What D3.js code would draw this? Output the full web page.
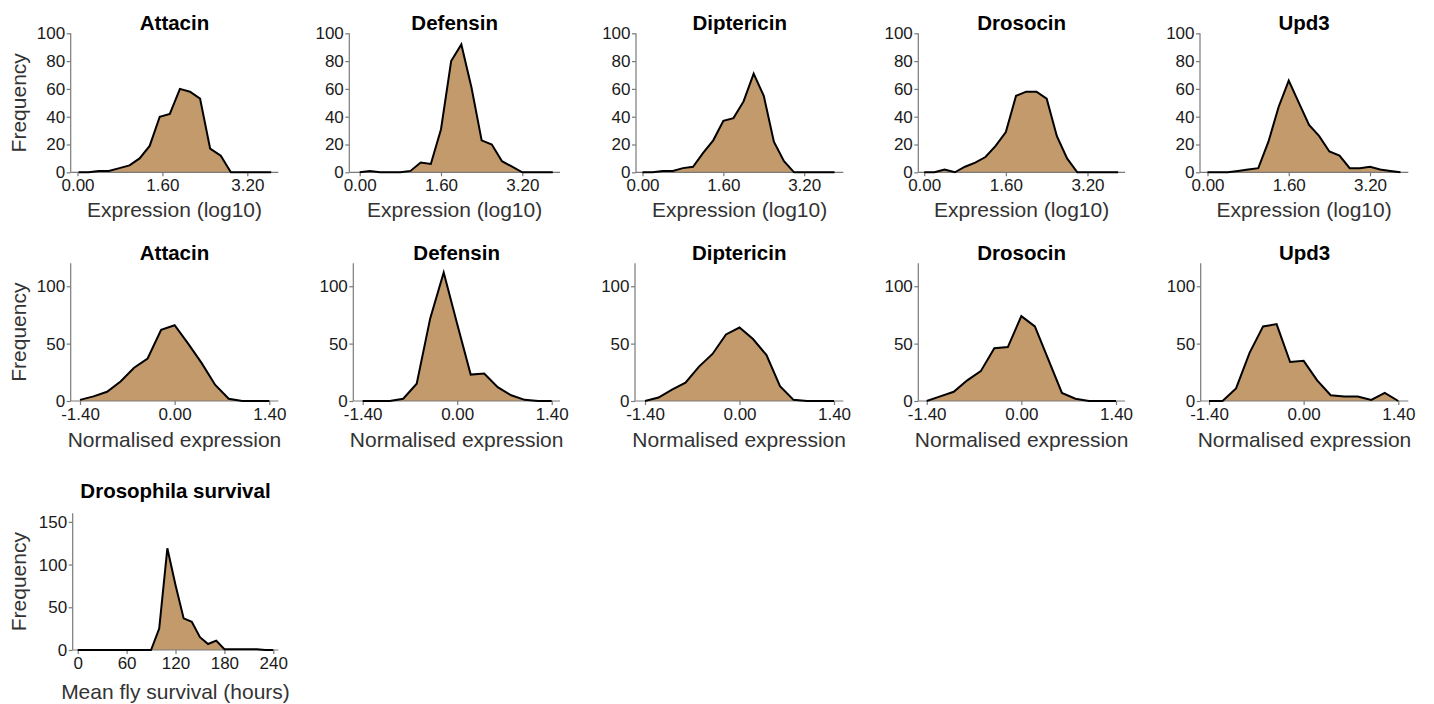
<!DOCTYPE html>
<html>
<head>
<meta charset="utf-8">
<script src="https://cdn.jsdelivr.net/npm/d3@7"></script>
<style>
  html, body { margin: 0; padding: 0; background: #fff; }
  svg { display: block; }
  text { font-family: "Liberation Sans", Arial, Helvetica, sans-serif; }
</style>
</head>
<body>
<svg id="chart" width="1434" height="704"></svg>
<script>
// ---------------- DATA ----------------
const geneNames = ["Attacin", "Defensin", "Diptericin", "Drosocin", "Upd3"];

// Row 1: expression (log10) bin positions
const attacinLogBins = [0.02, 0.21, 0.40, 0.59, 0.79, 0.98, 1.17, 1.36, 1.55, 1.74, 1.93, 2.12, 2.31, 2.50, 2.70, 2.89, 3.08, 3.27, 3.46, 3.65];
const logBins = [0.0, 0.2, 0.4, 0.6, 0.8, 1.0, 1.2, 1.4, 1.6, 1.8, 2.0, 2.2, 2.4, 2.6, 2.8, 3.0, 3.2, 3.4, 3.6, 3.8];
const logTicks = [0, 1.6, 3.2];

const attacinLog    = [0, 0, 1, 1, 3, 5, 10, 19, 40, 42, 60, 58, 53, 17, 12, 0, 0, 0, 0, 0];
const defensinLog   = [0, 1, 0, 0, 0, 1, 7, 6, 31, 80, 92, 61, 23, 20, 8, 4, 0, 0, 0, 0];
const diptericinLog = [0, 0, 1, 1, 3, 4, 14, 23, 37, 39, 51, 71, 55, 22, 8, 0, 0, 0, 0, 0];
const drosocinLog   = [0, 0, 2, 0, 4, 7, 11, 19, 29, 55, 58, 58, 53, 26, 10, 0, 0, 0, 0, 0];
const upd3Log       = [0, 0, 0, 1, 2, 3, 22, 47, 66, 50, 34, 26, 15, 12, 3, 3, 4, 2, 1, 0];

// Row 2: normalised expression
const normBins = [-1.4, -1.2, -1.0, -0.8, -0.6, -0.4, -0.2, 0.0, 0.2, 0.4, 0.6, 0.8, 1.0, 1.2, 1.4];
const normTicks = [-1.4, 0, 1.4];

const attacinNorm    = [1, 4, 8, 17, 29, 37, 62, 66, 50, 33, 14, 2, 0, 0, 0];
const defensinNorm   = [0, 0, 0, 2, 15, 72, 112, 67, 23, 24, 12, 5, 1, 0, 0];
const diptericinNorm = [0, 3, 10, 16, 30, 41, 58, 64, 54, 40, 13, 1, 0, 0, 0];
const drosocinNorm   = [0, 4, 8, 18, 26, 46, 47, 74, 65, 36, 7, 2, 0, 0, 0];
const upd3Norm       = [0, 0, 11, 42, 65, 67, 34, 35, 18, 5, 4, 4, 1, 7, 0];

// Row 3: survival
const survivalBins = [0, 10, 20, 30, 40, 50, 60, 70, 80, 90, 100, 110, 120, 130, 140, 150, 160, 170, 180, 190, 200, 210, 220, 230, 240];
const survivalFreq = [0, 0, 0, 0, 0, 0, 0, 0, 0, 0, 25, 119, 76, 37, 33, 15, 7, 11, 1, 1, 1, 1, 1, 0, 0];
const survivalTicks = [0, 60, 120, 180, 240];

const row1YTicks = [0, 20, 40, 60, 80, 100];
const row2YTicks = [0, 50, 100];
const row3YTicks = [0, 50, 100, 150];

// ---------------- LAYOUT ----------------
const FILL = "#c39a6b";
const AXIS_COLOR = "#7a7a7a";
const fmt2 = d => d3.format(".2f")(d).replace("\u2212", "-");
const fmtInt = d => d3.format("d")(d);

const panels = [
  // row 1
  { title: geneNames[0], bins: attacinLogBins, vals: attacinLog, xt: logTicks, xfmt: fmt2, ref: [0, 3.2], refPx: [77.5, 247.3], axL: 70.7, axR: 278.3, yTop: 33.3, yBot: 172.3, yMax: 100, yt: row1YTicks, titleY: 30, xlab: "Expression (log10)", xlabY: 216.5, ylab: true },
  { title: geneNames[1], bins: logBins, vals: defensinLog, xt: logTicks, xfmt: fmt2, ref: [0, 3.2], refPx: [359.7, 522.3], axL: 349.3, axR: 560, yTop: 33.3, yBot: 172.3, yMax: 100, yt: row1YTicks, titleY: 30, xlab: "Expression (log10)", xlabY: 216.5 },
  { title: geneNames[2], bins: logBins, vals: diptericinLog, xt: logTicks, xfmt: fmt2, ref: [0, 3.2], refPx: [642.5, 804.2], axL: 636, axR: 843.3, yTop: 33.3, yBot: 172.3, yMax: 100, yt: row1YTicks, titleY: 30, xlab: "Expression (log10)", xlabY: 216.5 },
  { title: geneNames[3], bins: logBins, vals: drosocinLog, xt: logTicks, xfmt: fmt2, ref: [0, 3.2], refPx: [924.2, 1087.5], axL: 918.3, axR: 1125, yTop: 33.3, yBot: 172.3, yMax: 100, yt: row1YTicks, titleY: 30, xlab: "Expression (log10)", xlabY: 216.5 },
  { title: geneNames[4], bins: logBins, vals: upd3Log, xt: logTicks, xfmt: fmt2, ref: [0, 3.2], refPx: [1207.5, 1370], axL: 1200, axR: 1408.3, yTop: 33.3, yBot: 172.3, yMax: 100, yt: row1YTicks, titleY: 30, xlab: "Expression (log10)", xlabY: 216.5 },
  // row 2
  { title: geneNames[0], bins: normBins, vals: attacinNorm, xt: normTicks, xfmt: fmt2, ref: [-1.4, 1.4], refPx: [80, 269.3], axL: 70.7, axR: 278.3, yTop: 263.3, yBot: 401, yMax: 120, yt: row2YTicks, titleY: 260, xlab: "Normalised expression", xlabY: 446.5, ylab: true },
  { title: geneNames[1], bins: normBins, vals: defensinNorm, xt: normTicks, xfmt: fmt2, ref: [-1.4, 1.4], refPx: [362.7, 551.7], axL: 353.3, axR: 560, yTop: 263.3, yBot: 401, yMax: 120, yt: row2YTicks, titleY: 260, xlab: "Normalised expression", xlabY: 446.5 },
  { title: geneNames[2], bins: normBins, vals: diptericinNorm, xt: normTicks, xfmt: fmt2, ref: [-1.4, 1.4], refPx: [645, 834], axL: 635, axR: 843.3, yTop: 263.3, yBot: 401, yMax: 120, yt: row2YTicks, titleY: 260, xlab: "Normalised expression", xlabY: 446.5 },
  { title: geneNames[3], bins: normBins, vals: drosocinNorm, xt: normTicks, xfmt: fmt2, ref: [-1.4, 1.4], refPx: [926.7, 1116], axL: 918.3, axR: 1125, yTop: 263.3, yBot: 401, yMax: 120, yt: row2YTicks, titleY: 260, xlab: "Normalised expression", xlabY: 446.5 },
  { title: geneNames[4], bins: normBins, vals: upd3Norm, xt: normTicks, xfmt: fmt2, ref: [-1.4, 1.4], refPx: [1209, 1398.3], axL: 1200.7, axR: 1408.3, yTop: 263.3, yBot: 401, yMax: 120, yt: row2YTicks, titleY: 260, xlab: "Normalised expression", xlabY: 446.5 },
  // row 3
  { title: "Drosophila survival", bins: survivalBins, vals: survivalFreq, xt: survivalTicks, xfmt: fmtInt, ref: [0, 240], refPx: [77.7, 273.3], axL: 72.7, axR: 278.3, yTop: 513.3, yBot: 650, yMax: 160, yt: row3YTicks, titleY: 498, xlab: "Mean fly survival (hours)", xlabY: 699, ylab: true }
];

// ---------------- DRAW ----------------
const svg = d3.select("#chart");

panels.forEach(p => {
  const x = d3.scaleLinear().domain(p.ref).range(p.refPx);
  const y = d3.scaleLinear().domain([0, p.yMax]).range([p.yBot, p.yTop]);
  const g = svg.append("g");
  const pts = p.bins.map((b, i) => [b, p.vals[i]]);

  // area
  g.append("path")
    .datum(pts)
    .attr("fill", FILL)
    .attr("d", d3.area().x(d => x(d[0])).y0(y(0)).y1(d => y(d[1])));

  // axes
  const xAxis = d3.axisBottom(x).tickValues(p.xt).tickFormat(p.xfmt).tickSize(4).tickPadding(3);
  const xg = g.append("g").attr("transform", `translate(0,${p.yBot})`).call(xAxis);
  xg.select(".domain").remove();
  xg.append("line").attr("x1", p.axL).attr("x2", p.axR).attr("y1", 0).attr("y2", 0);

  const yAxis = d3.axisLeft(y).tickValues(p.yt).tickSize(4).tickPadding(1.5);
  const yg = g.append("g").attr("transform", `translate(${p.axL},0)`).call(yAxis);
  yg.select(".domain").remove();
  yg.append("line").attr("x1", 0).attr("x2", 0).attr("y1", p.yBot).attr("y2", p.yTop);

  [xg, yg].forEach(a => {
    a.selectAll("line").attr("stroke", AXIS_COLOR).attr("stroke-width", 1.2);
    a.selectAll("text").attr("font-size", 17).attr("fill", "#1a1a1a")
      .attr("font-family", "'Liberation Sans', Arial, sans-serif");
  });

  // outline line
  g.append("path")
    .datum(pts)
    .attr("fill", "none")
    .attr("stroke", "#000")
    .attr("stroke-width", 2)
    .attr("stroke-linejoin", "miter")
    .attr("d", d3.line().x(d => x(d[0])).y(d => y(d[1])));

  const cx = (p.axL + p.axR) / 2;
  // title
  g.append("text")
    .attr("x", cx).attr("y", p.titleY)
    .attr("text-anchor", "middle")
    .attr("font-size", 20.5).attr("font-weight", "bold").attr("fill", "#000")
    .text(p.title);

  // x label
  g.append("text")
    .attr("x", cx).attr("y", p.xlabY)
    .attr("text-anchor", "middle")
    .attr("font-size", 21).attr("fill", "#333")
    .text(p.xlab);

  // y label
  if (p.ylab) {
    g.append("text")
      .attr("transform", `translate(25.5,${(p.yTop + p.yBot) / 2}) rotate(-90)`)
      .attr("text-anchor", "middle")
      .attr("font-size", 21).attr("fill", "#333")
      .text("Frequency");
  }
});
</script>
</body>
</html>
